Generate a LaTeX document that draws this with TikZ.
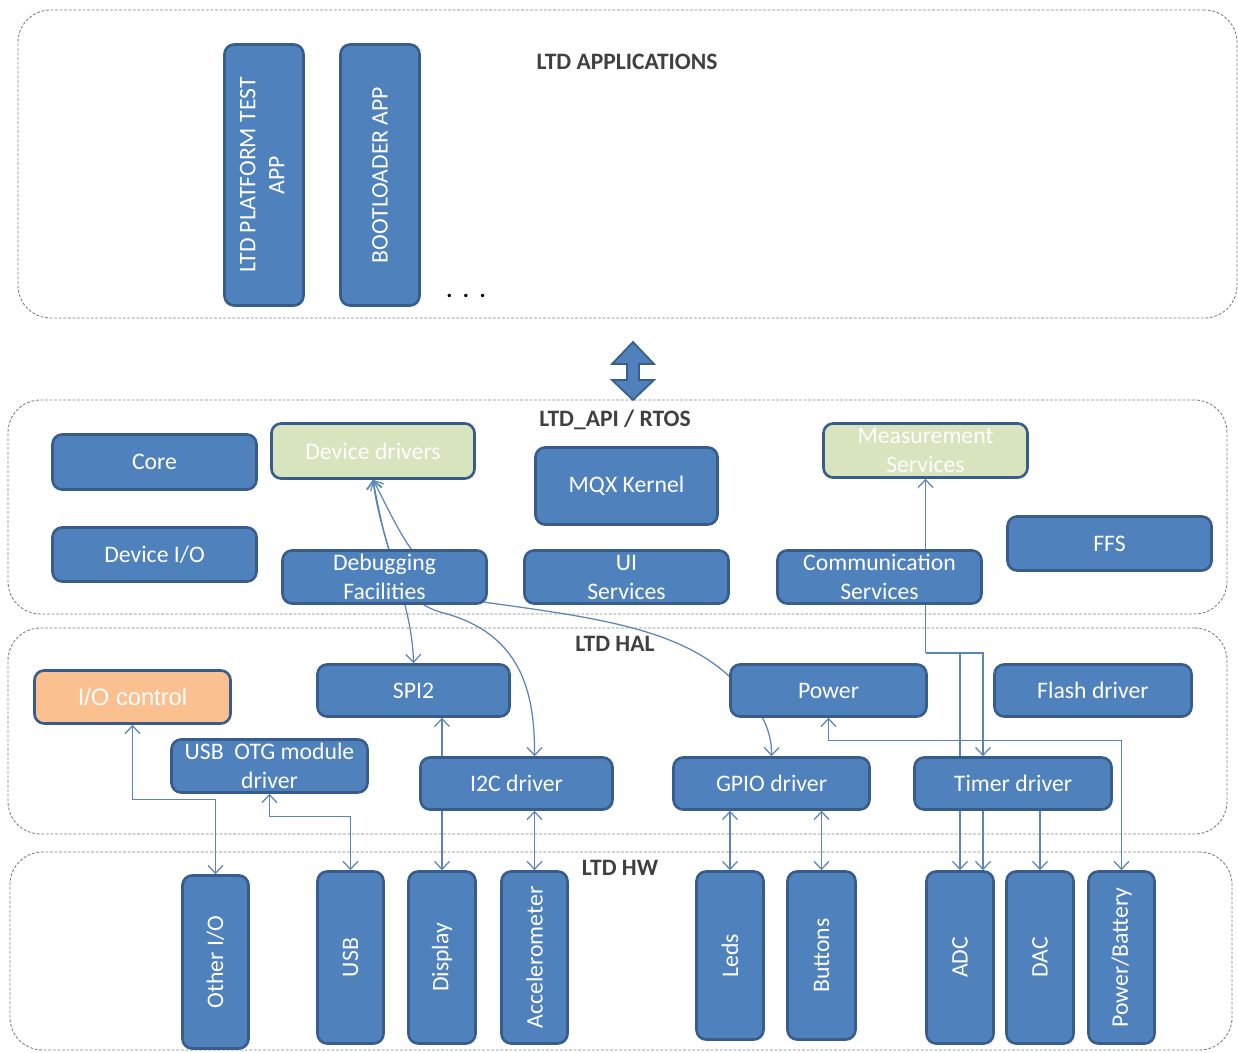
\documentclass[tikz,border=0pt]{standalone}
\usepackage{fontspec}
\setmainfont{Carlito}
\newfontfamily\arialfont{Liberation Sans}
\usetikzlibrary{arrows.meta,calc}
\pgfdeclarelayer{paper}
\pgfdeclarelayer{back}
\pgfsetlayers{paper,back,main}

\definecolor{blockblue}{HTML}{4F81BD}
\definecolor{blockedge}{HTML}{385D8A}
\definecolor{drvgreen}{HTML}{D7E4BD}
\definecolor{ioorange}{HTML}{FAC090}
\definecolor{linkblue}{HTML}{5B84B8}
\definecolor{framegray}{HTML}{808080}
\definecolor{labelgray}{HTML}{404040}

\tikzset{
  blockbox/.style={draw=blockedge, fill=blockblue, line width=1.5pt,
    rounded corners=5.5pt, inner sep=0pt, align=center, text=white,
    font=\fontsize{13.5}{16.5}\selectfont},
  greenbox/.style={fill=drvgreen, text=white},
  orangebox/.style={fill=ioorange, text=white,
    font=\arialfont\fontsize{13.5}{16.5}\selectfont},
  layerframe/.style={draw=framegray, line width=0.5pt,
    dash pattern=on 1.6pt off 1pt, rounded corners=0.65cm, inner sep=0pt},
  layerlabel/.style={text=labelgray, font=\bfseries\fontsize{13.4}{15}\selectfont,
    inner sep=0pt},
  link/.style={draw=linkblue, line width=0.7pt,
    >={Straight Barb[length=4.5pt,width=8.5pt]}},
}

% block from its outer corners (x1,y1)-(x2,y2), in pixel units
\newcommand\placebox[7][]{%
  \node[blockbox,#1,minimum width={(#5-#3-3)*0.02cm},
        minimum height={(#6-#4-3)*0.02cm}]
    (#2) at ({(#3+#5)/2},{(#4+#6)/2}) {#7};}
% dashed layer frame
\newcommand\placeframe[5]{%
  \node[layerframe,minimum width={(#4-#2)*0.02cm},
        minimum height={(#5-#3)*0.02cm}]
    (#1) at ({(#2+#4)/2},{(#3+#5)/2}) {};}
\newcommand\vtext[1]{\rotatebox{90}{#1}}

\begin{document}
\begin{tikzpicture}[x=0.02cm,y=-0.02cm]
\useasboundingbox (0,0) rectangle (1238,1053);
\begin{pgfonlayer}{paper}
  \fill[white] (0,0) rectangle (1238,1053);
\end{pgfonlayer}

% layer frames
\placeframe{appsframe}{18}{10}{1237}{318}
\placeframe{apiframe}{8}{400}{1227}{614}
\placeframe{halframe}{8}{628}{1227}{834}
\placeframe{hwframe}{10}{852}{1232}{1050}

% layer titles
\node[layerlabel] (appslabel) at (627,62) {LTD APPLICATIONS};
\node[layerlabel] (apilabel) at (615,420) {LTD\_API / RTOS};
\node[layerlabel] (hallabel) at (615,644) {LTD HAL};
\node[layerlabel] (hwlabel) at (620,868) {LTD HW};

% applications
\placebox{app1}{223}{43}{305}{307}{\vtext{\begin{tabular}{@{}c@{}}LTD PLATFORM TEST\\APP\end{tabular}}}
\placebox{app2}{339}{43}{421}{307}{\vtext{BOOTLOADER APP}}
\node[inner sep=0pt, font=\bfseries\fontsize{13}{15}\selectfont] (moreapps) at (466,296) {.\hspace{6pt}.\hspace{6pt}.};

% API / RTOS <-> applications
\draw[fill=blockblue, draw=blockedge, line width=1pt]
  (633,342) -- (654,364) -- (639,364) -- (639,380) -- (654,380) -- (633,400)
  -- (612,380) -- (627,380) -- (627,364) -- (612,364) -- cycle;

% LTD_API / RTOS
\placebox{core}{51}{433}{258}{491}{Core}
\placebox[greenbox]{devdrv}{270}{422}{476}{480}{Device drivers}
\placebox{mqx}{534}{446}{719}{526}{MQX Kernel}
\placebox[greenbox]{meas}{822}{422}{1029}{479}{Measurement\\Services}
\placebox{devio}{51}{526}{258}{583}{Device I/O}
\placebox{debug}{281}{549}{488}{605}{Debugging\\Facilities}
\placebox{ui}{523}{549}{730}{605}{UI\\Services}
\placebox{comm}{776}{549}{983}{605}{Communication\\Services}
\placebox{ffs}{1006}{515}{1213}{572}{FFS}

% LTD HAL
\placebox[orangebox]{ioctl}{33}{669}{232}{725}{I/O control}
\placebox{spi}{316}{663}{511}{718}{SPI2}
\placebox{power}{729}{663}{928}{718}{Power}
\placebox{flash}{993}{663}{1193}{718}{Flash driver}
\placebox{usbotg}{170}{738}{369}{794}{USB\ \ OTG module\\driver}
\placebox{i2c}{419}{756}{614}{811}{I2C driver}
\placebox{gpio}{672}{756}{871}{811}{GPIO driver}
\placebox{timer}{913}{756}{1113}{811}{Timer driver}

% LTD HW
\placebox{otherio}{181}{874}{250}{1050}{\vtext{Other I/O}}
\placebox{usb}{316}{870}{385}{1045}{\vtext{USB}}
\placebox{display}{407}{870}{477}{1045}{\vtext{Display}}
\placebox{accel}{500}{870}{569}{1045}{\vtext{Accelerometer}}
\placebox{leds}{695}{870}{765}{1041}{\vtext{Leds}}
\placebox{buttons}{786}{870}{857}{1041}{\vtext{Buttons}}
\placebox{adc}{925}{870}{995}{1045}{\vtext{ADC}}
\placebox{dac}{1005}{870}{1075}{1045}{\vtext{DAC}}
\placebox{powbat}{1087}{870}{1156}{1045}{\vtext{Power/Battery}}

% connectors, kept behind the blocks
\begin{pgfonlayer}{back}
  % device drivers fan-out through the debugging facilities
  \draw[link,<->] (devdrv.south) .. controls (380,540) and (412,600) .. (spi.north);
  \draw[link,<->] (devdrv.south) .. controls (388,560) and (400,600) .. (440,612)
     .. controls (520,632) and (535,690) .. (i2c.north -| accel.north);
  \draw[link,<->] (devdrv.south) .. controls (395,520) and (420,592) .. (490,603)
     .. controls (600,618) and (680,630) .. (730,677)
     .. controls (760,705) and (772,730) .. (gpio.north);

  % HAL <-> HW
  \draw[link,<->] (ioctl.south) -- ++(0,75) -| (otherio.north);
  \draw[link,<->] (usbotg.south) -- ++(0,23) -| (usb.north);
  \draw[link,<->] (spi.south -| display.north) -- (display.north);
  \draw[link,<->] (i2c.south -| accel.north) -- (accel.north);
  \draw[link,<->] (gpio.south -| leds.north) -- (leds.north);
  \draw[link,<->] (gpio.south -| buttons.north) -- (buttons.north);
  \draw[link,<->] (power.south) -- ++(0,23) -| (powbat.north);

  % communication services branch
  \coordinate (hub) at (meas.south |- 0,653);
  \coordinate (timerin) at ($(timer.north)+(-30,0)$);
  \coordinate (timerout) at ($(timer.south)+(-30,0)$);
  \draw[link,->] (hub) -- (meas.south);
  \draw[link,->] (hub) -| (timerin);
  \draw[link,->] (adc.north |- hub) -- (adc.north);
  \draw[link,->] (timerout) -- (timerout |- adc.north);
  \draw[link,->] (timer.south -| dac.north) -- (dac.north);
\end{pgfonlayer}
\end{tikzpicture}
\end{document}
